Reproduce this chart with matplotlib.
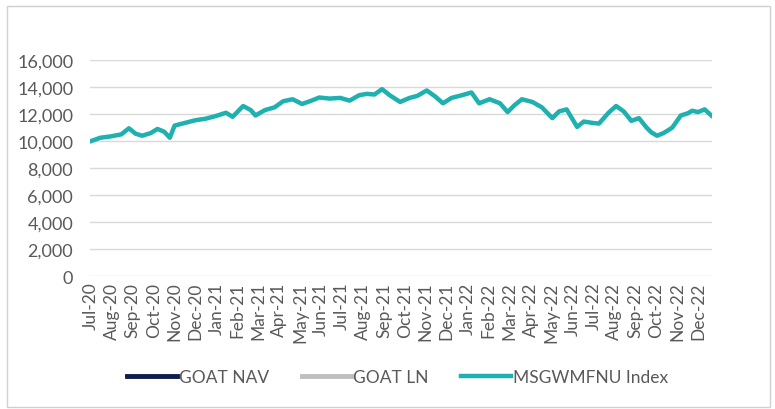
import pandas as pd
import matplotlib
matplotlib.use('Agg')
import matplotlib.pyplot as plt
from matplotlib.patches import Rectangle

plt.rcParams['font.family'] = ['Lato', 'DejaVu Sans']

# MSGWMFNU Index, values
obs_dates = ['2020-07-01', '2020-07-15', '2020-07-30', '2020-08-14', '2020-08-26', '2020-09-04',
             '2020-09-15', '2020-09-28', '2020-10-07', '2020-10-16', '2020-10-26', '2020-11-02',
             '2020-11-17', '2020-12-02', '2020-12-16', '2020-12-31', '2021-01-15', '2021-01-26',
             '2021-02-10', '2021-02-22', '2021-03-01', '2021-03-15', '2021-03-29', '2021-04-09',
             '2021-04-23', '2021-05-07', '2021-05-21', '2021-06-02', '2021-06-17', '2021-07-02',
             '2021-07-16', '2021-07-30', '2021-08-11', '2021-08-23', '2021-09-02', '2021-09-14',
             '2021-09-29', '2021-10-13', '2021-10-25', '2021-11-08', '2021-11-19', '2021-12-01',
             '2021-12-14', '2021-12-29', '2022-01-12', '2022-01-24', '2022-02-08', '2022-02-23',
             '2022-03-07', '2022-03-16', '2022-03-28', '2022-04-12', '2022-04-26', '2022-05-11',
             '2022-05-20', '2022-06-01', '2022-06-16', '2022-06-27', '2022-07-08', '2022-07-19',
             '2022-08-02', '2022-08-12', '2022-08-24', '2022-09-05', '2022-09-15', '2022-09-27',
             '2022-10-04', '2022-10-12', '2022-10-21', '2022-11-03', '2022-11-16', '2022-11-25',
             '2022-12-02', '2022-12-12', '2022-12-21', '2022-12-30']
index_vals = [10000, 10250, 10350, 10500, 10950, 10550,
              10400, 10600, 10900, 10700, 10250, 11150,
              11350, 11550, 11650, 11850, 12100, 11800,
              12600, 12300, 11900, 12300, 12500, 12950,
              13100, 12750, 13000, 13230, 13150, 13200,
              13000, 13400, 13500, 13450, 13850, 13400,
              12900, 13200, 13350, 13750, 13300, 12800,
              13200, 13400, 13600, 12800, 13100, 12800,
              12150, 12650, 13100, 12900, 12500, 11700,
              12200, 12350, 11050, 11450, 11350, 11300,
              12100, 12600, 12200, 11500, 11700, 11000,
              10650, 10400, 10600, 11000, 11900, 12050,
              12250, 12150, 12350, 11900]

month_labels = ['Jul-20', 'Aug-20', 'Sep-20', 'Oct-20', 'Nov-20', 'Dec-20',
                'Jan-21', 'Feb-21', 'Mar-21', 'Apr-21', 'May-21', 'Jun-21',
                'Jul-21', 'Aug-21', 'Sep-21', 'Oct-21', 'Nov-21', 'Dec-21',
                'Jan-22', 'Feb-22', 'Mar-22', 'Apr-22', 'May-22', 'Jun-22',
                'Jul-22', 'Aug-22', 'Sep-22', 'Oct-22', 'Nov-22', 'Dec-22']

# category axis on trading days, a label every 22 days
bdays = pd.bdate_range('2020-07-01', '2022-12-30')
x_pos = bdays.searchsorted(pd.to_datetime(obs_dates))

fig = plt.figure(figsize=(7.75, 4.1), dpi=100)
ax = fig.add_axes([0.116, 0.324, 0.803, 0.527])

ax.plot([], [], color='#0f1c4d', lw=3.5, label='GOAT NAV')
ax.plot([], [], color='#bfbfbf', lw=3.5, label='GOAT LN')
ax.plot(x_pos, index_vals, color='#1fb0b0', lw=3.2, label='MSGWMFNU Index')

ax.set_ylim(0, 16000)
ax.set_yticks(range(0, 16001, 2000))
ax.set_yticklabels([f'{v:,}' for v in range(0, 16001, 2000)])
ax.set_xlim(-1, len(bdays))
ax.set_xticks(range(0, 22 * len(month_labels), 22))
ax.set_xticklabels(month_labels, rotation=90)

ax.grid(axis='y', color='#d9d9d9', lw=1)
ax.set_axisbelow(True)
for s in ax.spines.values():
    s.set_visible(False)
ax.tick_params(length=0, colors='#595959')
ax.tick_params(axis='y', pad=12, labelsize=13)
ax.tick_params(axis='x', pad=4, labelsize=12.5)

fig.legend(loc='center', bbox_to_anchor=(0.513, 0.078), ncol=3, frameon=False,
           fontsize=12.5, handlelength=2.85, handletextpad=0.1, columnspacing=1.9,
           labelcolor='#595959')

fig.patches.append(Rectangle((0.009, 0.005), 0.985, 0.978, transform=fig.transFigure,
                             fill=False, edgecolor='#d0d0d0', lw=1))

fig.savefig('out.png', dpi=100)
